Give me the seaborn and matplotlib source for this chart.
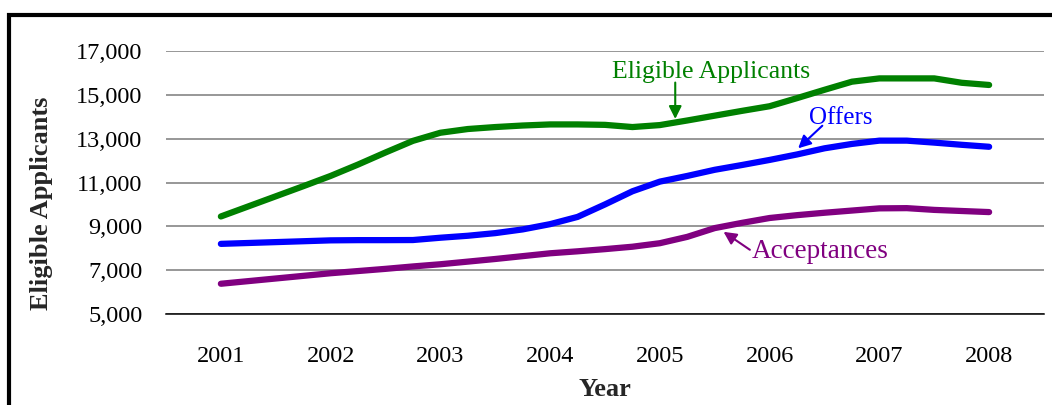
import matplotlib
matplotlib.use("Agg")
import matplotlib.pyplot as plt
import matplotlib.patches as mpatches
from matplotlib.ticker import FuncFormatter
import numpy as np
import pandas as pd
import seaborn as sns

# ---- data (quarterly points) ----
quarters = [2001.00, 2001.25, 2001.50, 2001.75,
            2002.00, 2002.25, 2002.50, 2002.75,
            2003.00, 2003.25, 2003.50, 2003.75,
            2004.00, 2004.25, 2004.50, 2004.75,
            2005.00, 2005.25, 2005.50, 2005.75,
            2006.00, 2006.25, 2006.50, 2006.75,
            2007.00, 2007.25, 2007.50, 2007.75,
            2008.00]

eligible = [9450, 9910, 10370, 10830,
            11300, 11820, 12370, 12900,
            13270, 13440, 13530, 13600,
            13650, 13650, 13630, 13530,
            13620, 13830, 14050, 14270,
            14480, 14850, 15230, 15600,
            15750, 15750, 15750, 15550,
            15450]

offers = [8200, 8240, 8280, 8320,
          8360, 8370, 8370, 8375,
          8480, 8570, 8690, 8860,
          9100, 9430, 10000, 10600,
          11040, 11300, 11580, 11800,
          12030, 12280, 12560, 12760,
          12910, 12910, 12820, 12720,
          12630]

acceptances = [6380, 6500, 6620, 6740,
               6860, 6960, 7060, 7170,
               7270, 7390, 7510, 7640,
               7770, 7860, 7960, 8070,
               8230, 8520, 8920, 9160,
               9380, 9510, 9620, 9720,
               9820, 9830, 9750, 9700,
               9650]

year_ticks = [2001, 2002, 2003, 2004, 2005, 2006, 2007, 2008]
y_ticks = [5000, 7000, 9000, 11000, 13000, 15000, 17000]

series_names = ["Eligible Applicants", "Offers", "Acceptances"]
colors = {"Eligible Applicants": "#008000", "Offers": "#0000FF", "Acceptances": "#800080"}

df = pd.concat([
    pd.DataFrame({"Year": quarters, "Value": eligible, "Series": "Eligible Applicants"}),
    pd.DataFrame({"Year": quarters, "Value": offers, "Series": "Offers"}),
    pd.DataFrame({"Year": quarters, "Value": acceptances, "Series": "Acceptances"}),
], ignore_index=True)

# ---- figure ----
sns.set_theme(style="white")
plt.rcParams["font.family"] = ["Liberation Serif", "DejaVu Serif"]

W, H = 1052, 405
fig = plt.figure(figsize=(W / 100, H / 100), dpi=100)
ax = fig.add_axes([166 / W, 1 - 314 / H, (1044 - 166) / W, (314 - 51) / H])

sns.lineplot(data=df, x="Year", y="Value", hue="Series", hue_order=series_names,
             palette=colors, linewidth=4.5, legend=False, ax=ax,
             solid_capstyle="round", solid_joinstyle="round")

ax.set_xlim(2000.5, 2008.5)
ax.set_ylim(5000, 17000)
ax.set_xticks(year_ticks)
ax.set_xticklabels([str(y) for y in year_ticks])
ax.set_yticks(y_ticks)
ax.yaxis.set_major_formatter(FuncFormatter(lambda v, p: f"{int(v):,}"))
ax.tick_params(axis="both", length=0, labelsize=17.5, colors="black")
ax.tick_params(axis="y", pad=17)
ax.tick_params(axis="x", pad=23)

ax.grid(axis="y", color="#7a7a7a", linewidth=1.1)
ax.grid(axis="x", visible=False)
ax.set_axisbelow(True)
for s in ["top", "right", "left"]:
    ax.spines[s].set_visible(False)
ax.spines["bottom"].set_color("black")
ax.spines["bottom"].set_linewidth(1.1)

ax.set_ylabel("Eligible Applicants", fontsize=19, fontweight="bold", va="center")
ax.yaxis.set_label_coords((42 - 166) / (1044 - 166), (314 - 203.5) / (314 - 51))
ax.set_xlabel("Year", fontsize=19, fontweight="bold", va="center")
ax.xaxis.set_label_coords(0.5, (314 - 390) / (314 - 51))

# ---- annotations ----
ax.text(2005.47, 16050, "Eligible Applicants", color="#008000", fontsize=18.5,
        ha="center", va="center")
ax.annotate("", xy=(2005.14, 13900), xytext=(2005.14, 15560),
            arrowprops=dict(arrowstyle="-|>", color="#008000", lw=1.5,
                            mutation_scale=19, shrinkA=0, shrinkB=0))

ax.text(2006.65, 13950, "Offers", color="#0000FF", fontsize=18,
        ha="center", va="center")
ax.annotate("", xy=(2006.26, 12560), xytext=(2006.48, 13590),
            arrowprops=dict(arrowstyle="-|>", color="#0000FF", lw=1.5,
                            mutation_scale=19, shrinkA=0, shrinkB=0))

ax.text(2006.46, 7830, "Acceptances", color="#800080", fontsize=19.5,
        ha="center", va="center")
ax.annotate("", xy=(2005.58, 8750), xytext=(2005.82, 7930),
            arrowprops=dict(arrowstyle="-|>", color="#800080", lw=1.5,
                            mutation_scale=19, shrinkA=0, shrinkB=0))

# ---- outer frame (partly cut off at right and bottom) ----
frame = mpatches.Rectangle((9 / W, -0.2), 1.2, (1 - 15 / H) + 0.2,
                           transform=fig.transFigure, fill=False,
                           edgecolor="black", linewidth=3.0, clip_on=False)
fig.add_artist(frame)

fig.savefig("out.png", dpi=100)
